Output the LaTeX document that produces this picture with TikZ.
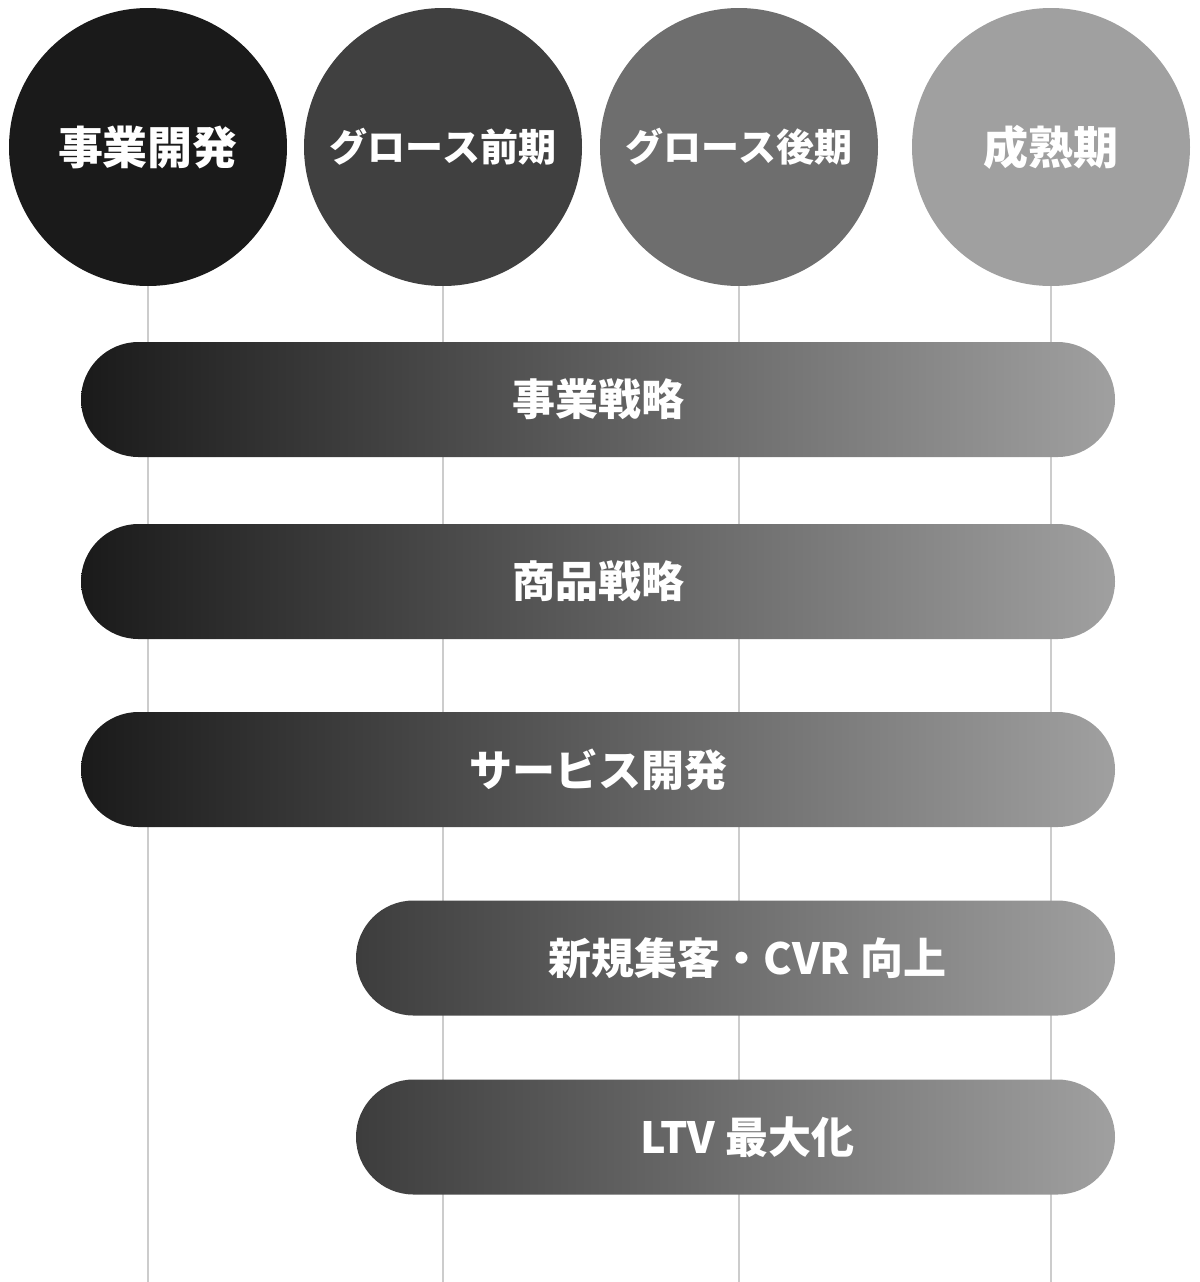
\documentclass[tikz,border=0pt]{standalone}
\usepackage{fontspec}
\newfontfamily\jpfont{Noto Sans CJK JP}
\usepackage{tikz}

\definecolor{phaseA}{HTML}{1A1A1A}
\definecolor{phaseB}{HTML}{404040}
\definecolor{phaseC}{HTML}{6E6E6E}
\definecolor{phaseD}{HTML}{A0A0A0}
\definecolor{gridline}{HTML}{CCCCCC}

\tikzset{
  phase/.style={circle, minimum size=139pt, inner sep=0pt, text=white,
    font=\jpfont\bfseries\fontsize{22.5}{26}\selectfont},
  smallphase/.style={phase, font=\jpfont\bfseries\fontsize{19}{22}\selectfont},
  bar/.style={rectangle, rounded corners=28.75pt, minimum height=57.5pt,
    inner sep=0pt, text=white, font=\jpfont\bfseries\fontsize{21.5}{25}\selectfont},
  longbar/.style={bar, minimum width=517pt, left color=phaseA, right color=phaseD},
  shortbar/.style={bar, minimum width=379.5pt, left color=phaseB!95!black, right color=phaseD}
}

\begin{document}
\begin{tikzpicture}[x=0.5pt,y=-0.5pt]
\useasboundingbox (0,0) rectangle (1200,1282);

%Phasen
\node[phase, fill=phaseA]      (dev)    at (148,147)  {事業開発};
\node[smallphase, fill=phaseB] (early)  at (443,147)  {グロース前期};
\node[smallphase, fill=phaseC] (late)   at (739,147)  {グロース後期};
\node[phase, fill=phaseD]      (mature) at (1051,147) {成熟期};

%Endpunkte der Linien
\coordinate (devE)    at (148,1282);
\coordinate (earlyE)  at (443,1282);
\coordinate (lateE)   at (739,1282);
\coordinate (matureE) at (1051,1282);

\draw[gridline, line width=1pt] (dev.south) -- (devE);
\draw[gridline, line width=1pt] (early.south) -- (earlyE);
\draw[gridline, line width=1pt] (late.south) -- (lateE);
\draw[gridline, line width=1pt] (mature.south) -- (matureE);

%Balken
\node[longbar]  (strategy) at (598,399.5)  {事業戦略};
\node[longbar]  (product)  at (598,581.5)  {商品戦略};
\node[longbar]  (service)  at (598,769.5)  {サービス開発};
\node[shortbar] (acquire)  at (735.5,958)  {\hspace*{12pt}新規集客・CVR 向上};
\node[shortbar] (ltv)      at (735.5,1137) {\hspace*{12pt}LTV 最大化};
\end{tikzpicture}
\end{document}
